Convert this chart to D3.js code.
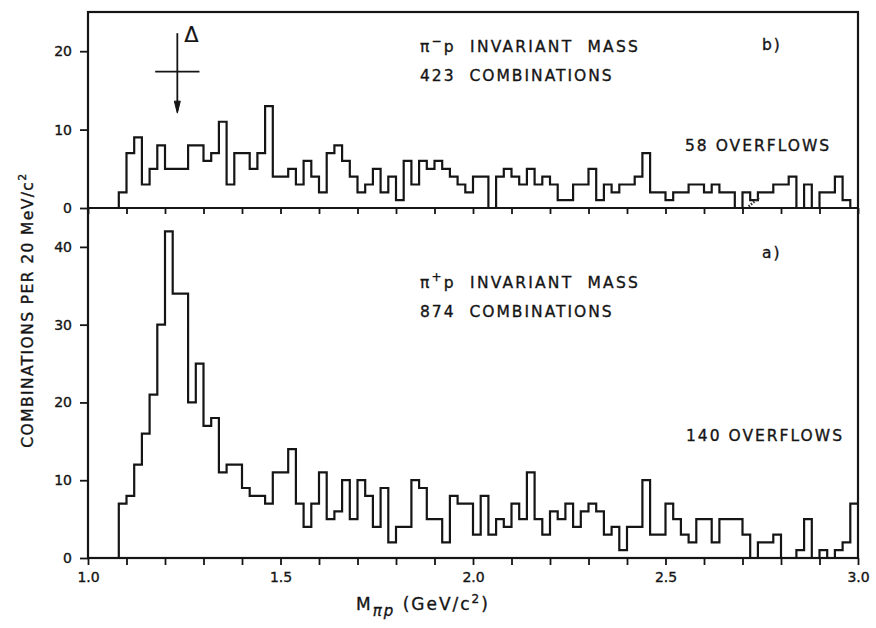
<!DOCTYPE html>
<html>
<head>
<meta charset="utf-8">
<script src="https://cdn.jsdelivr.net/npm/d3@7"></script>
<style>
  body { margin: 0; background: #fff; }
  svg text { font-family: "DejaVu Sans", sans-serif; fill: #151515; stroke: #151515; stroke-width: 0.35px; white-space: pre; }
  .axis path { display: none; }
  .axis line { stroke: #151515; stroke-width: 1.8px; }
  .axis text { font-size: 14px; }
</style>
</head>
<body>
<div id="chart"></div>
<script>

// pi p invariant mass, 20 MeV bins from 1.0 to 3.0 GeV/c^2
var binStart = 1.0,
    binWidth = 0.02;

// b) pi- p, 423 combinations (58 overflows)
var piMinusCounts = [
  0, 0, 0, 0, 2, 7, 9, 3, 5, 8,
  5, 5, 5, 8, 8, 6, 7, 11, 3, 7,
  7, 5, 7, 13, 4, 4, 5, 3, 6, 4,
  2, 7, 8, 6, 4, 2, 3, 5, 2, 4,
  1, 6, 3, 6, 5, 6, 5, 4, 3, 2,
  4, 4, 0, 4, 5, 4, 3, 5, 3, 4,
  3, 1, 1, 3, 3, 5, 1, 3, 2, 3,
  3, 4, 7, 2, 2, 1, 2, 2, 3, 3,
  2, 3, 2, 2, 0, 2, 1, 2, 2, 3,
  3, 4, 0, 3, 0, 2, 2, 4, 1, 0
];

// a) pi+ p, 874 combinations (140 overflows)
var piPlusCounts = [
  0, 0, 0, 0, 7, 8, 12, 16, 21, 30,
  42, 34, 34, 20, 25, 17, 18, 11, 12, 12,
  9, 8, 8, 7, 11, 11, 14, 7, 4, 7,
  11, 5, 6, 10, 5, 10, 8, 4, 9, 2,
  4, 4, 10, 9, 5, 5, 2, 8, 7, 7,
  3, 8, 3, 5, 4, 7, 5, 11, 5, 3,
  6, 5, 7, 4, 6, 7, 6, 3, 4, 1,
  4, 4, 10, 3, 3, 7, 5, 3, 2, 5,
  5, 2, 5, 5, 5, 3, 0, 2, 2, 3,
  0, 0, 1, 5, 0, 1, 0, 1, 2, 7
];

var xTicks = [1.0, 1.1, 1.2, 1.3, 1.4, 1.5, 1.6, 1.7, 1.8, 1.9, 2.0,
              2.1, 2.2, 2.3, 2.4, 2.5, 2.6, 2.7, 2.8, 2.9, 3.0];
var xTickLabels = ["1.0", "1.5", "2.0", "2.5", "3.0"];
var topTicks = [0, 10, 20];
var bottomTicks = [0, 10, 20, 30, 40];

// Delta(1232) marker: mass, full width, counts at arrow top / bar / arrow tip
var deltaMass = 1.232,
    deltaWidth = 0.115,
    deltaLevels = [22.3, 17.4, 12.1];

var width = 876,
    height = 628,
    margin = { left: 88, right: 18, top: 12, bottom: 70 },
    split = 208;

var svg = d3.select("#chart").append("svg")
  .attr("width", width)
  .attr("height", height);

var x = d3.scaleLinear()
  .domain([1.0, 3.0])
  .range([margin.left, width - margin.right]);

var yTop = d3.scaleLinear().domain([0, 25]).range([split, margin.top]);
var yBottom = d3.scaleLinear().domain([0, 45]).range([height - margin.bottom, split]);

function histPath(counts, y) {
  var pts = counts.map(function(c, i) { return [binStart + i * binWidth, c]; });
  pts.push([binStart + counts.length * binWidth, counts[counts.length - 1]]);
  return d3.line()
    .x(function(d) { return x(d[0]); })
    .y(function(d) { return y(d[1]); })
    .curve(d3.curveStepAfter)(pts);
}

// histograms
[[piMinusCounts, yTop], [piPlusCounts, yBottom]].forEach(function(h) {
  svg.append("path")
    .attr("d", histPath(h[0], h[1]))
    .attr("fill", "none")
    .attr("stroke", "#151515")
    .attr("stroke-width", 2.2)
    .attr("stroke-linejoin", "miter");
});

// frame and divider
svg.append("rect")
  .attr("x", x(1.0)).attr("y", margin.top)
  .attr("width", x(3.0) - x(1.0))
  .attr("height", yBottom(0) - margin.top)
  .attr("fill", "none")
  .attr("stroke", "#151515")
  .attr("stroke-width", 2.2);

svg.append("line")
  .attr("x1", x(1.0)).attr("x2", x(3.0))
  .attr("y1", split).attr("y2", split)
  .attr("stroke", "#151515")
  .attr("stroke-width", 2.2);

// axes
svg.append("g").attr("class", "axis")
  .attr("transform", "translate(" + x(1.0) + ",0)")
  .call(d3.axisLeft(yTop).tickValues(topTicks).tickSize(8).tickPadding(8));

svg.append("g").attr("class", "axis")
  .attr("transform", "translate(" + x(1.0) + ",0)")
  .call(d3.axisLeft(yBottom).tickValues(bottomTicks).tickSize(8).tickPadding(8));

svg.append("g").attr("class", "axis")
  .attr("transform", "translate(0," + yBottom(0) + ")")
  .call(d3.axisBottom(x).tickValues(xTicks).tickSize(7).tickPadding(7)
    .tickFormat(function(d) {
      var s = d3.format(".1f")(d);
      return xTickLabels.indexOf(s) >= 0 ? s : "";
    }));

svg.append("g").attr("class", "axis")
  .attr("transform", "translate(0," + split + ")")
  .call(d3.axisBottom(x).tickValues(xTicks).tickSize(6).tickFormat(""));

// Delta(1232) marker
var mark = svg.append("g").attr("stroke", "#151515").attr("stroke-width", 1.8);
mark.append("line")
  .attr("x1", x(deltaMass)).attr("x2", x(deltaMass))
  .attr("y1", yTop(deltaLevels[0])).attr("y2", yTop(deltaLevels[2]) - 2);
mark.append("line")
  .attr("x1", x(deltaMass - deltaWidth / 2)).attr("x2", x(deltaMass + deltaWidth / 2))
  .attr("y1", yTop(deltaLevels[1])).attr("y2", yTop(deltaLevels[1]));
mark.append("path")
  .attr("d", "M" + (x(deltaMass) - 3) + "," + (yTop(deltaLevels[2]) - 12) +
             "L" + x(deltaMass) + "," + yTop(deltaLevels[2]) +
             "L" + (x(deltaMass) + 3) + "," + (yTop(deltaLevels[2]) - 12) + "Z")
  .attr("fill", "#151515")
  .attr("stroke-width", 1);

svg.append("text")
  .attr("x", x(deltaMass) + 7).attr("y", yTop(deltaLevels[0]) + 9)
  .style("font-size", "21px")
  .style("stroke-width", "0.2px")
  .text("\u0394");

// small hatched stroke on the pi- p baseline near 2.72
svg.append("line")
  .attr("x1", x(2.716)).attr("y1", yTop(0.2))
  .attr("x2", x(2.745)).attr("y2", yTop(1.4))
  .attr("stroke", "#333")
  .attr("stroke-width", 2.5)
  .attr("stroke-dasharray", "1.5,1.5");

// panel annotations
function label(txt, px, py) {
  return svg.append("text")
    .attr("x", px).attr("y", py)
    .style("font-size", "15.5px")
    .style("letter-spacing", "2px")
    .text(txt);
}

function reaction(charge, py) {
  var t = svg.append("text").attr("x", 420).attr("y", py)
    .style("font-size", "15.5px").style("letter-spacing", "2.2px");
  t.append("tspan").text("\u03c0");
  t.append("tspan").attr("dy", -7).style("font-size", "12px").text(charge);
  t.append("tspan").attr("dy", 7).text("p  INVARIANT  MASS");
}

reaction("\u2212", 52);
label("423  COMBINATIONS", 420, 81);
label("58 OVERFLOWS", 685, 151);
label("b)", 762, 50);

reaction("+", 288);
label("874  COMBINATIONS", 420, 317);
label("140 OVERFLOWS", 686, 441);
label("a)", 762, 258);

// axis titles
var yt = svg.append("text")
  .attr("transform", "translate(33,310) rotate(-90)")
  .attr("text-anchor", "middle")
  .style("font-size", "15.5px")
  .style("letter-spacing", "1.4px");
yt.append("tspan").text("COMBINATIONS PER 20 MeV/c");
yt.append("tspan").attr("dy", -7).style("font-size", "11px").text("2");

var xt = svg.append("text")
  .attr("x", 356).attr("y", 610)
  .style("font-size", "17px")
  .style("letter-spacing", "2px");
xt.append("tspan").text("M");
xt.append("tspan").attr("dy", 6).style("font-size", "15px").style("font-style", "italic").text("\u03c0p");
xt.append("tspan").attr("dy", -6).text(" (GeV/c");
xt.append("tspan").attr("dy", -7).style("font-size", "12px").text("2");
xt.append("tspan").attr("dy", 7).text(")");

</script>
</body>
</html>
